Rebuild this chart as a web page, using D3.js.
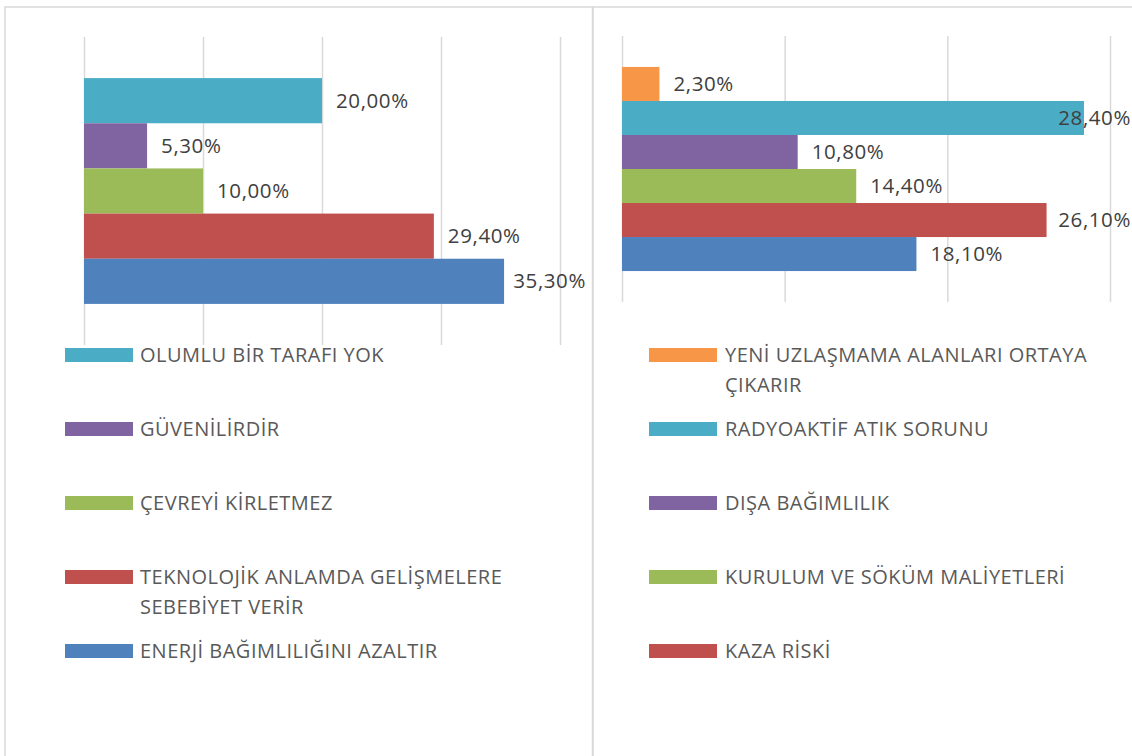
<!DOCTYPE html>
<html>
<head>
<meta charset="utf-8">
<script src="https://cdn.jsdelivr.net/npm/d3@7"></script>
<style>
  body { margin: 0; background: #fff; }
  svg text { font-family: "Open Sans", "Noto Sans", sans-serif; }
</style>
</head>
<body>
<div id="chart"></div>
<script>
// left panel: olumlu yanlar
const leftNames = ['OLUMLU BİR TARAFI YOK', 'GÜVENİLİRDİR', 'ÇEVREYİ KİRLETMEZ',
  'TEKNOLOJİK ANLAMDA GELİŞMELERE\nSEBEBİYET VERİR', 'ENERJİ BAĞIMLILIĞINI AZALTIR'];
const leftValues = [20.0, 5.3, 10.0, 29.4, 35.3];
const leftColors = ['#4BACC6', '#8064A2', '#9BBB59', '#C0504D', '#4F81BD'];
const leftTicks = [0, 10, 20, 30, 40];

// right panel: olumsuz yanlar (last bar has no legend entry in the picture)
const rightNames = ['YENİ UZLAŞMAMA ALANLARI ORTAYA\nÇIKARIR', 'RADYOAKTİF ATIK SORUNU',
  'DIŞA BAĞIMLILIK', 'KURULUM VE SÖKÜM MALİYETLERİ', 'KAZA RİSKİ', null];
const rightValues = [2.3, 28.4, 10.8, 14.4, 26.1, 18.1];
const rightColors = ['#F79646', '#4BACC6', '#8064A2', '#9BBB59', '#C0504D', '#4F81BD'];
const rightTicks = [0, 10, 20, 30];

const W = 1132, H = 756;
const fmt = v => v.toFixed(2).replace('.', ',') + '%';

const svg = d3.select('#chart').append('svg')
  .attr('width', W).attr('height', H);

// panel frames
const frame = svg.append('g')
  .attr('fill', 'none')
  .attr('stroke', '#d9d9d9')
  .attr('stroke-width', 1.5);
frame.append('rect').attr('x', 5).attr('y', 7).attr('width', 587.5).attr('height', H);
frame.append('rect').attr('x', 593).attr('y', 7).attr('width', W).attr('height', H);

function drawPanel(opt) {
  const {names, values, colors, ticks, xRange, yRange, labelLimit,
    legendX, legendTextX} = opt;
  const g = svg.append('g');

  const x = d3.scaleLinear()
    .domain([ticks[0], ticks[ticks.length - 1]])
    .range(xRange);
  const y = d3.scaleBand()
    .domain(d3.range(values.length))
    .range(yRange)
    .paddingInner(0)
    .paddingOuter(0.91);

  // gridlines
  g.append('g')
    .attr('transform', 'translate(0,' + yRange[1] + ')')
    .call(d3.axisBottom(x).tickValues(ticks)
      .tickSize(-(yRange[1] - yRange[0]))
      .tickFormat(''))
    .call(a => a.select('.domain').remove())
    .call(a => a.selectAll('.tick line')
      .attr('stroke', '#d9d9d9')
      .attr('stroke-width', 1.5));

  // bars
  g.selectAll('rect.bar')
    .data(values)
    .enter()
    .append('rect')
      .attr('class', 'bar')
      .attr('x', x(0))
      .attr('y', (d, i) => y(i))
      .attr('width', d => x(d) - x(0))
      .attr('height', y.bandwidth())
      .attr('fill', (d, i) => colors[i]);

  // value labels, pushed back inside when they would run off the panel
  g.selectAll('text.val')
    .data(values)
    .enter()
    .append('text')
      .attr('class', 'val')
      .attr('y', (d, i) => y(i) + y.bandwidth() / 2)
      .attr('dy', '0.35em')
      .attr('font-size', 20.5)
      .attr('letter-spacing', 0.6)
      .attr('fill', '#404040')
      .text(fmt)
      .attr('x', function(d) {
        const w = this.getComputedTextLength();
        return Math.min(x(d) + 14, labelLimit - w);
      });

  // legend
  const rows = [355, 429, 503, 577, 651];
  const items = names.map((n, i) => ({name: n, color: colors[i]}))
    .filter(d => d.name !== null);
  const leg = g.selectAll('g.leg')
    .data(items)
    .enter()
    .append('g')
      .attr('class', 'leg')
      .attr('transform', (d, i) => 'translate(0,' + rows[i] + ')');
  leg.append('rect')
    .attr('x', legendX)
    .attr('y', -7)
    .attr('width', 68)
    .attr('height', 14)
    .attr('fill', d => d.color);
  const t = leg.append('text')
    .attr('x', legendTextX)
    .attr('font-size', 20)
    .attr('letter-spacing', 0.5)
    .attr('fill', '#595959');
  t.selectAll('tspan')
    .data(d => d.name.split('\n'))
    .enter()
    .append('tspan')
      .attr('x', legendTextX)
      .attr('y', (d, i) => i * 30)
      .attr('dy', '0.35em')
      .text(d => d);
}

drawPanel({
  names: leftNames, values: leftValues, colors: leftColors, ticks: leftTicks,
  xRange: [84, 560], yRange: [37, 345], labelLimit: 586,
  legendX: 65, legendTextX: 140
});

drawPanel({
  names: rightNames, values: rightValues, colors: rightColors, ticks: rightTicks,
  xRange: [622, 1110], yRange: [36, 302], labelLimit: 1131,
  legendX: 649, legendTextX: 725
});
</script>
</body>
</html>
